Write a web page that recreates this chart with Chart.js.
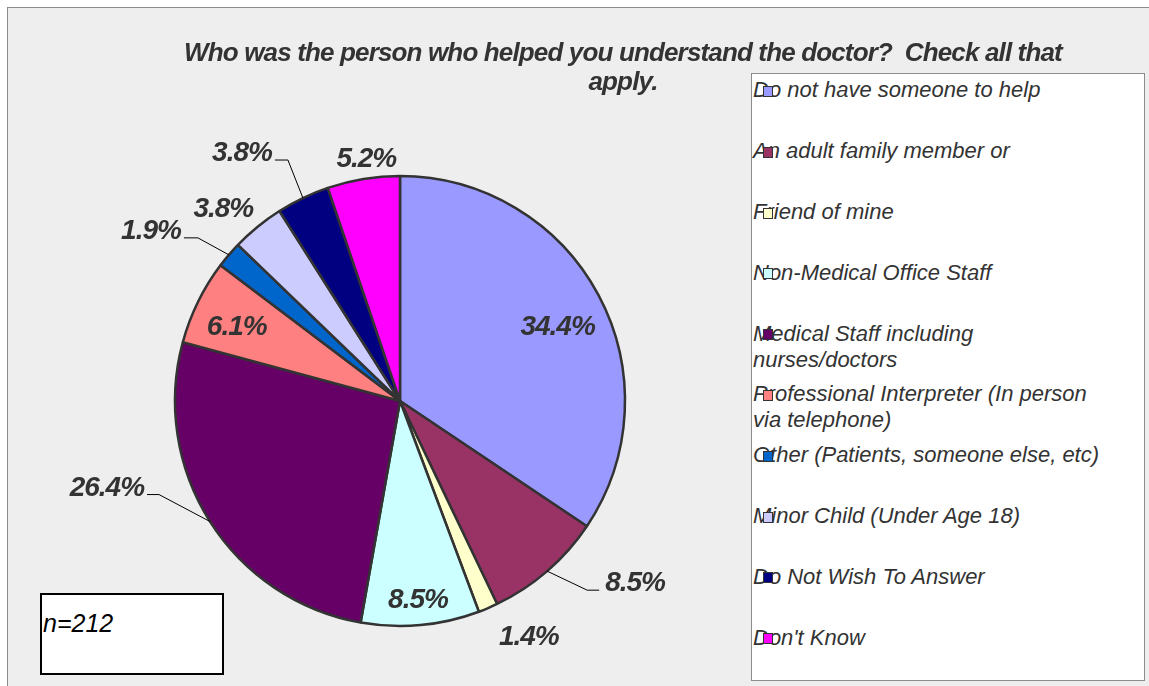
<!DOCTYPE html>
<html>
<head>
<meta charset="utf-8">
<script src="https://cdn.jsdelivr.net/npm/chart.js@4"></script>
<style>
  html, body { margin: 0; padding: 0; width: 1149px; height: 686px; overflow: hidden; background: #ffffff; }
  #frame { position: absolute; left: 7px; top: 7px; width: 1160px; height: 700px; border: 1px solid #8c8c8c; background: #eeeeee; }
  #chart { position: absolute; left: 0; top: 0; }
  #title { position: absolute; left: 123px; width: 1000px; top: 38px; text-align: center;
           font: italic bold 26px "Liberation Sans", Arial, sans-serif; letter-spacing: -0.85px;
           color: #333333; line-height: 29px; white-space: pre; }
  #legendBox { position: absolute; left: 751px; top: 73px; width: 394px; height: 608px;
               background: #ffffff; border: 1px solid #8c8c8c; box-sizing: border-box; }
  .lg-text { position: absolute; left: 753px; width: 355px; font: italic 22px "Liberation Sans", Arial, sans-serif;
             line-height: 26px; color: #333333; }
  .lg-mark { position: absolute; left: 763px; width: 10px; height: 11px; box-sizing: border-box; border: 1px solid #333333; }
  #nbox { position: absolute; left: 40px; top: 593px; width: 184px; height: 82px; background: #ffffff;
          border: 2px solid #000000; box-sizing: border-box; }
  #ntext { position: absolute; left: 43px; top: 609px; font: italic 25px "Liberation Sans", Arial, sans-serif; color: #000; }
</style>
</head>
<body>
<div id="frame"></div>
<canvas id="chart" width="1149" height="686"></canvas>
<div id="title"></div>
<div id="legendBox"></div>
<div id="nbox"></div>
<div id="ntext"></div>
<script>
// ---- data ----
const titleLines = ["Who was the person who helped you understand the doctor?  Check all that", "apply."];
const categories = [
  "Do not have someone to help",
  "An adult family member or",
  "Friend of mine",
  "Non-Medical Office Staff",
  "Medical Staff including nurses/doctors",
  "Professional Interpreter (In person via telephone)",
  "Other (Patients, someone else, etc)",
  "Minor Child (Under Age 18)",
  "Do Not Wish To Answer",
  "Don't Know"
];
const percentages = [34.4, 8.5, 1.4, 8.5, 26.4, 6.1, 1.9, 3.8, 3.8, 5.2];
const sampleSize = 212;

// ---- styles ----
const sliceColors = ["#9999FF", "#993366", "#FFFFCC", "#CCFFFF", "#660066",
                     "#FF8080", "#0066CC", "#CCCCFF", "#000080", "#FF00FF"];
// label placement relative to each slice (style only)
const labelPlace = [
  { type: "at", f: 0.778, da: 2.3 },
  { type: "lead", dx: 40, dy: 19, h: 12 },
  { type: "at", f: 1.187, da: -5.8 },
  { type: "at", f: 0.88, da: 0 },
  { type: "lead", dx: -51, dy: -27, h: 12 },
  { type: "at", f: 0.80, da: -1.2 },
  { type: "lead", dx: -31, dy: -17, h: 14 },
  { type: "at", f: 1.166, da: -3.1 },
  { type: "lead", dx: -15, dy: -38, h: 13 },
  { type: "at", f: 1.095, da: 1.5 }
];

document.getElementById("title").textContent = titleLines.join("\n");
document.getElementById("ntext").textContent = "n=" + sampleSize;

// legend
categories.forEach((c, i) => {
  const baseline = 98 + i * 60.8;
  const t = document.createElement("div");
  t.className = "lg-text";
  t.style.top = (baseline - 20.6) + "px";
  t.textContent = c;
  document.body.appendChild(t);
  const m = document.createElement("div");
  m.className = "lg-mark";
  m.style.top = (baseline - 12) + "px";
  m.style.background = sliceColors[i];
  document.body.appendChild(m);
});

const labelPlugin = {
  id: "sliceLabels",
  afterDatasetsDraw(chart) {
    const ctx = chart.ctx;
    const meta = chart.getDatasetMeta(0);
    ctx.save();
    ctx.font = 'italic bold 28px "Liberation Sans", Arial, sans-serif';
    try { ctx.letterSpacing = "-1px"; } catch (e) {}
    ctx.fillStyle = "#333333";
    ctx.textBaseline = "alphabetic";
    meta.data.forEach((arc, i) => {
      const p = arc.getProps(["x", "y", "startAngle", "endAngle", "outerRadius"], true);
      const mid = (p.startAngle + p.endAngle) / 2;
      const txt = percentages[i].toFixed(1) + "%";
      const pl = labelPlace[i];
      if (pl.type === "at") {
        const a = mid + pl.da * Math.PI / 180;
        const r = p.outerRadius * pl.f;
        const cx = p.x + r * Math.cos(a);
        const cy = p.y + r * Math.sin(a);
        ctx.textAlign = "center";
        ctx.fillText(txt, cx, cy + 10);
      } else {
        const ex = p.x + p.outerRadius * Math.cos(mid);
        const ey = p.y + p.outerRadius * Math.sin(mid);
        const kx = ex + pl.dx, ky = ey + pl.dy;
        const dir = pl.dx >= 0 ? 1 : -1;
        const hx = kx + dir * pl.h;
        ctx.beginPath();
        ctx.strokeStyle = "#000000";
        ctx.lineWidth = 1;
        ctx.moveTo(ex, ey);
        ctx.lineTo(kx, ky);
        ctx.lineTo(hx, ky);
        ctx.stroke();
        ctx.textAlign = dir > 0 ? "left" : "right";
        ctx.fillText(txt, hx + dir * (dir > 0 ? 6 : 3), ky + 1);
      }
    });
    ctx.restore();
  }
};

new Chart(document.getElementById("chart"), {
  type: "pie",
  data: {
    labels: categories,
    datasets: [{
      data: percentages,
      backgroundColor: sliceColors,
      borderColor: "#333333",
      borderWidth: 2.5,
      radius: 225
    }]
  },
  options: {
    responsive: false,
    animation: false,
    layout: { padding: { left: 170, right: 519, top: 171, bottom: 55 } },
    plugins: { legend: { display: false }, title: { display: false }, tooltip: { enabled: false } }
  },
  plugins: [labelPlugin]
});
</script>
</body>
</html>
